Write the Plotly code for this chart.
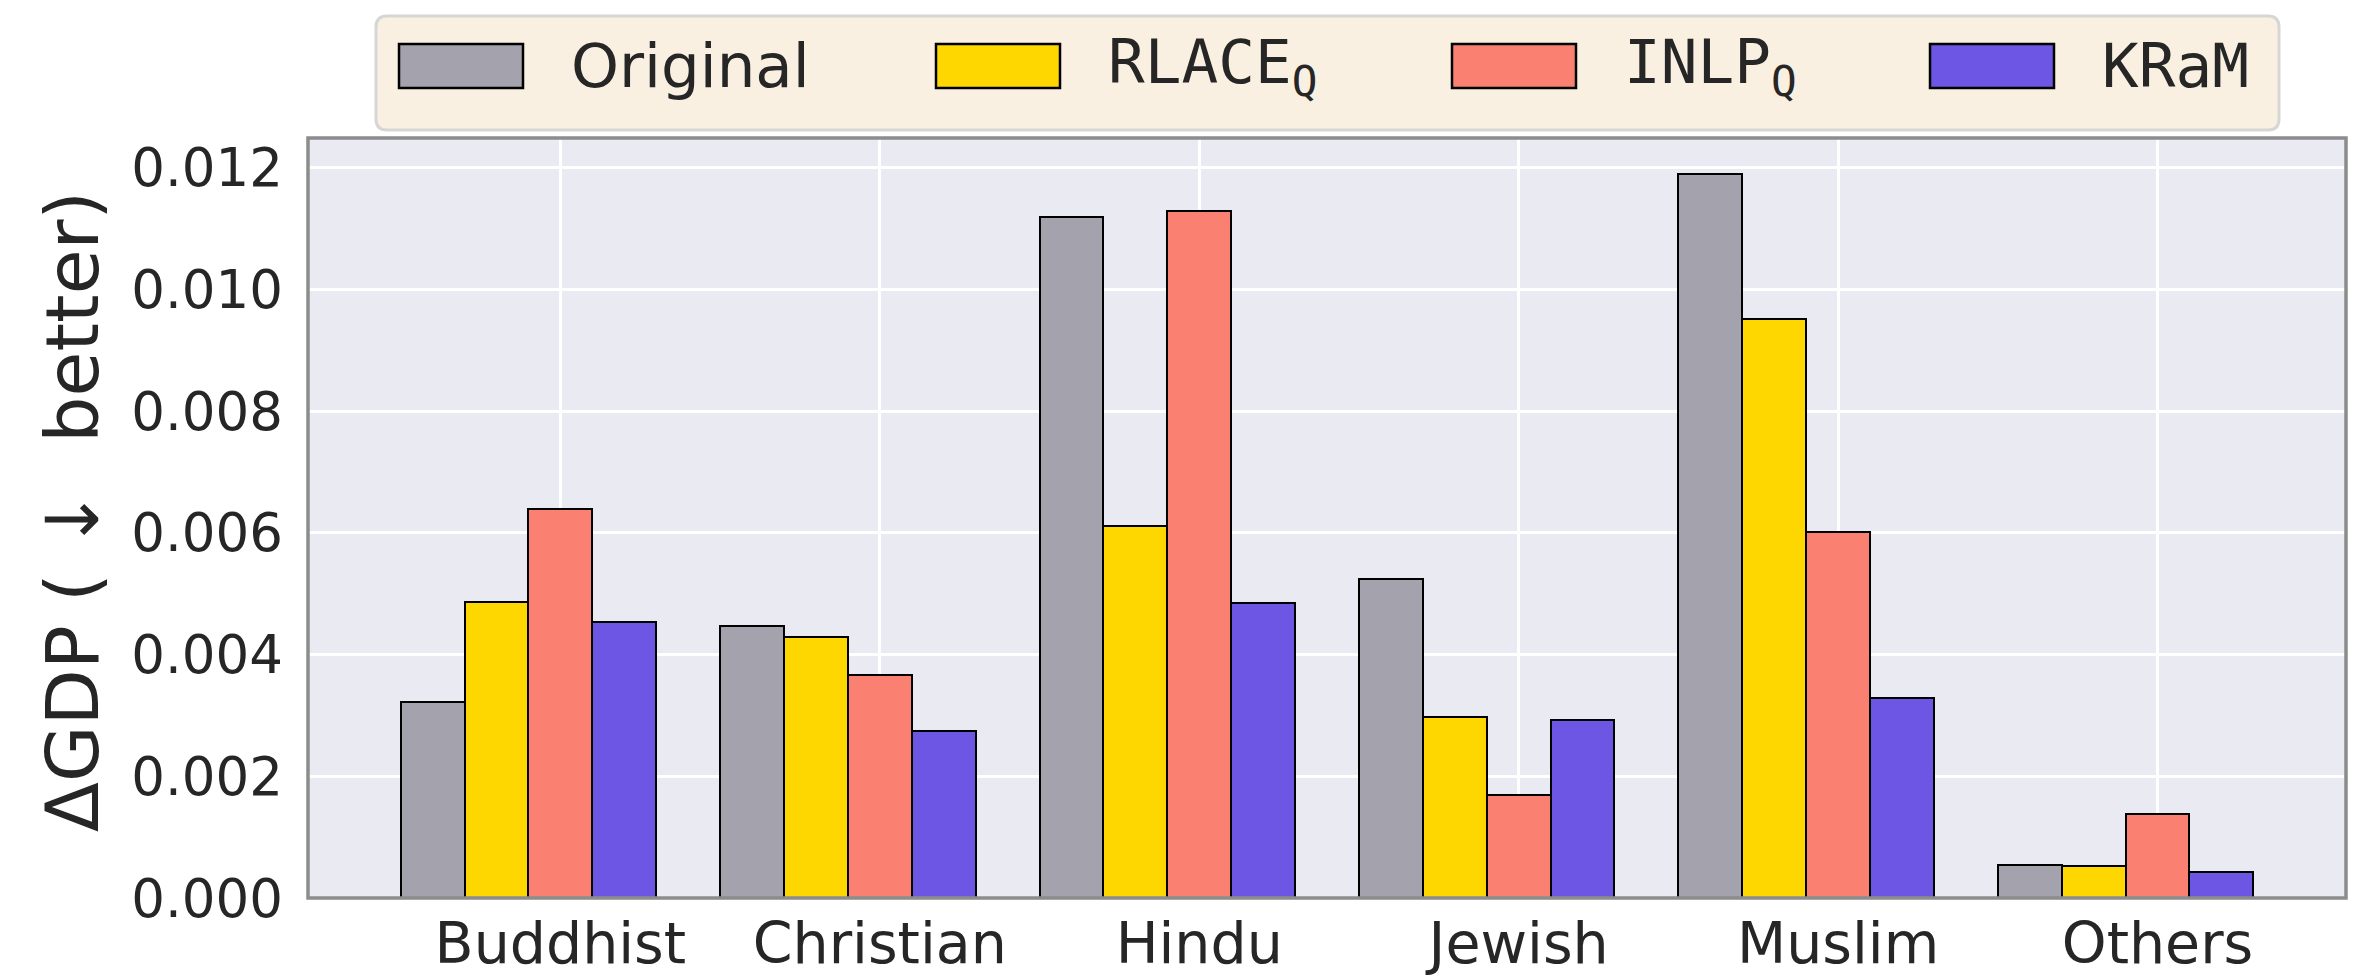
import plotly.graph_objects as go

# ΔGDP per religion group for each representation
categories = ["Buddhist", "Christian", "Hindu", "Jewish", "Muslim", "Others"]
original = [0.00322, 0.00447, 0.01118, 0.00524, 0.01189, 0.00054]
rlace_q = [0.00486, 0.00428, 0.00611, 0.00297, 0.00951, 0.00052]
inlp_q = [0.00639, 0.00366, 0.01128, 0.00169, 0.00602, 0.00138]
kram = [0.00453, 0.00274, 0.00485, 0.00292, 0.00328, 0.00042]

series_names = ["Original", "RLACE<sub>Q</sub>", "INLP<sub>Q</sub>", "KRaM"]
series_values = [original, rlace_q, inlp_q, kram]
series_colors = ["#A3A2AD", "#FFD700", "#FA8072", "#6D56E4"]
series_fonts = ["DejaVu Sans", "DejaVu Sans Mono", "DejaVu Sans Mono", "DejaVu Sans Mono"]

y_ticks = [0.000, 0.002, 0.004, 0.006, 0.008, 0.010, 0.012]

W, H = 2355, 978
L, R, T, B = 308, 9, 138, 80
PW, PH = W - L - R, H - T - B

BAR_W = 0.2
TEXT = "#262626"

x_pos = list(range(len(categories)))

fig = go.Figure()
for i, (name, vals, col) in enumerate(zip(series_names, series_values, series_colors)):
    fig.add_trace(go.Bar(
        x=x_pos, y=vals, name=name,
        width=BAR_W, offset=(i - 2) * BAR_W - BAR_W / 2,
        marker=dict(color=col, line=dict(color="black", width=2)),
        showlegend=False,
    ))

# axis extents: 5% padding on x around the bars, 5% headroom on y
x_lo = min(x_pos) - 2.5 * BAR_W
x_hi = max(x_pos) + 1.5 * BAR_W
pad = 0.05 * (x_hi - x_lo)
y_top = max(max(v) for v in series_values) * 1.05


def fx(p):
    return (p - L) / PW


def fy(p):
    return (H - B - p) / PH


shapes = []
# plot frame
shapes.append(dict(type="rect", xref="paper", yref="paper", x0=0, x1=1, y0=0, y1=1,
                   line=dict(color="#8C8C8C", width=3.5), layer="above"))

# legend box with rounded corners
lx0, lx1, ly0, ly1, rad = 376, 2279, 16, 130, 11
rx, ry = rad / PW, rad / PH
X0, X1, Y0, Y1 = fx(lx0), fx(lx1), fy(ly1), fy(ly0)
path = (f"M {X0+rx},{Y0} L {X1-rx},{Y0} Q {X1},{Y0} {X1},{Y0+ry} "
        f"L {X1},{Y1-ry} Q {X1},{Y1} {X1-rx},{Y1} L {X0+rx},{Y1} "
        f"Q {X0},{Y1} {X0},{Y1-ry} L {X0},{Y0+ry} Q {X0},{Y0} {X0+rx},{Y0} Z")
shapes.append(dict(type="path", xref="paper", yref="paper", path=path,
                   fillcolor="#FAF0E1", line=dict(color="#D6D6D6", width=3), layer="above"))

annotations = []
swatch_left = [399, 936, 1452, 1930]
for i, (name, col, fam) in enumerate(zip(series_names, series_colors, series_fonts)):
    sx = swatch_left[i]
    shapes.append(dict(type="rect", xref="paper", yref="paper",
                       x0=fx(sx), x1=fx(sx + 124), y0=fy(88), y1=fy(44),
                       fillcolor=col, line=dict(color="black", width=2.5), layer="above"))
    annotations.append(dict(xref="paper", yref="paper", x=fx(sx + 170), y=fy(66),
                            xanchor="left", yanchor="middle", showarrow=False,
                            text=name, font=dict(family=fam, size=61, color=TEXT)))

annotations.append(dict(xref="paper", yref="paper", x=fx(72), y=fy(512),
                        xanchor="center", yanchor="middle", showarrow=False, textangle=-90,
                        text="ΔGDP (\u00a0↓\u00a0\u00a0better)",
                        font=dict(family="DejaVu Sans", size=73, color=TEXT)))

fig.update_layout(
    width=W, height=H,
    margin=dict(l=L, r=R, t=T, b=B, pad=0, autoexpand=False),
    paper_bgcolor="white", plot_bgcolor="#EAEAF2",
    barmode="overlay", bargap=0,
    shapes=shapes, annotations=annotations,
    showlegend=False,
    font=dict(family="DejaVu Sans", color=TEXT),
)
fig.update_xaxes(
    range=[x_lo - pad, x_hi + pad], automargin=False,
    tickmode="array", tickvals=x_pos, ticktext=categories,
    tickfont=dict(size=57, color=TEXT),
    showgrid=True, gridcolor="white", gridwidth=2.5,
    zeroline=False, showline=False, ticks="", ticklabelstandoff=7,
)
fig.update_yaxes(
    range=[0, y_top], automargin=False,
    tickmode="array", tickvals=y_ticks, ticktext=[f"{v:.3f}" for v in y_ticks],
    tickfont=dict(size=53, color=TEXT),
    showgrid=True, gridcolor="white", gridwidth=2.5,
    zeroline=False, showline=False, ticks="", ticklabelstandoff=24,
)

fig.write_html("out.html")
